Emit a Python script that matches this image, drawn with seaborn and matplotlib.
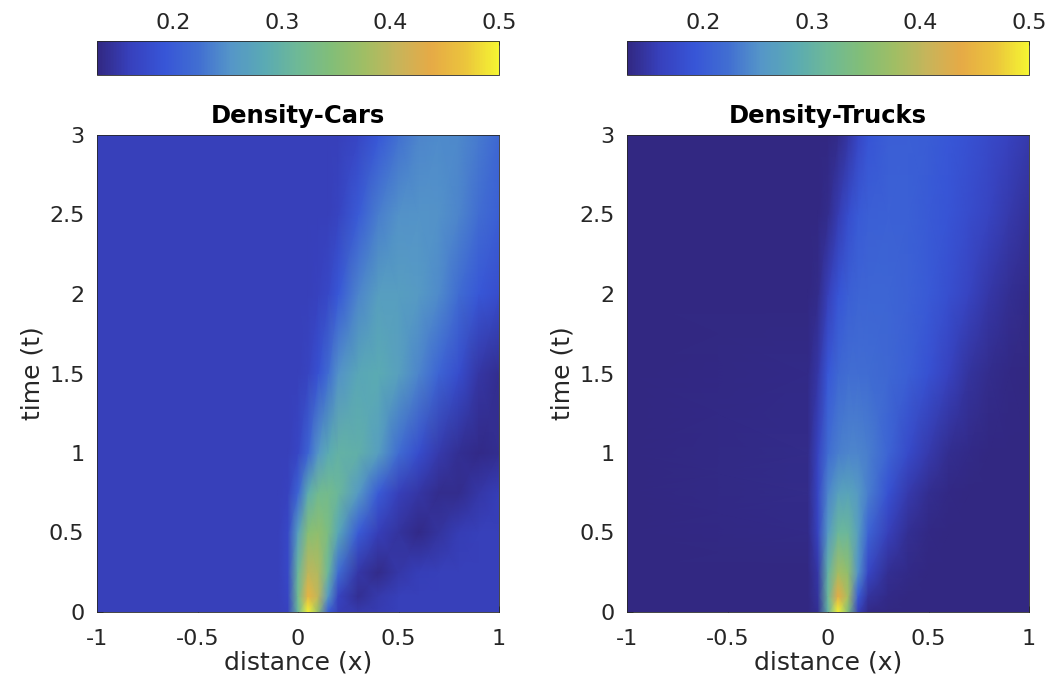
import numpy as np
import matplotlib
matplotlib.use("Agg")
import matplotlib.pyplot as plt
import seaborn as sns

# grid nodes
x_nodes = [-1.0, -0.1, -0.05, 0.0, 0.05, 0.1, 0.15, 0.2, 0.3, 0.4, 0.5, 0.6, 0.7, 0.8, 0.9, 1.0]
t_nodes = [0.0, 0.1, 0.25, 0.5, 0.75, 1.0, 1.5, 2.0, 2.5, 3.0]

# density of cars, one row per time node
cars_density = [
    [.16, .16, .163, .31, .50, .36, .20, .158, .152, .156, .16, .16, .16, .16, .16, .16],
    [.16, .16, .168, .32, .45, .40, .26, .165, .140, .152, .16, .16, .16, .16, .16, .16],
    [.16, .16, .172, .31, .40, .39, .31, .22, .150, .135, .150, .158, .16, .16, .16, .16],
    [.16, .16, .172, .27, .35, .36, .335, .28, .20, .158, .145, .133, .145, .157, .16, .16],
    [.16, .16, .163, .21, .29, .32, .325, .31, .26, .20, .16, .148, .137, .137, .15, .158],
    [.16, .16, .16, .17, .21, .255, .285, .30, .295, .265, .22, .18, .152, .14, .133, .138],
    [.16, .16, .16, .16, .165, .185, .22, .25, .28, .285, .27, .24, .21, .18, .148, .138],
    [.16, .16, .16, .16, .16, .162, .172, .195, .24, .265, .265, .26, .245, .22, .195, .18],
    [.16, .16, .16, .16, .16, .16, .16, .165, .20, .235, .25, .252, .25, .24, .222, .205],
    [.16, .16, .16, .16, .16, .16, .16, .16, .17, .195, .225, .24, .245, .243, .232, .215],
]

# density of trucks, one row per time node
trucks_density = [
    [.131, .131, .14, .30, .50, .34, .16, .134, .131, .131, .131, .131, .131, .131, .131, .131],
    [.131, .131, .145, .31, .44, .38, .20, .145, .133, .131, .131, .131, .131, .131, .131, .131],
    [.131, .131, .15, .30, .38, .36, .25, .17, .14, .133, .131, .131, .131, .131, .131, .131],
    [.131, .134, .165, .26, .31, .31, .265, .21, .16, .14, .132, .131, .131, .131, .131, .131],
    [.131, .135, .17, .24, .27, .275, .26, .235, .185, .152, .138, .132, .131, .131, .131, .131],
    [.131, .135, .165, .22, .235, .24, .24, .235, .21, .175, .152, .138, .133, .131, .131, .131],
    [.131, .133, .15, .195, .215, .222, .222, .22, .215, .205, .185, .162, .145, .136, .132, .131],
    [.131, .131, .135, .16, .19, .205, .21, .212, .212, .208, .198, .183, .166, .15, .14, .134],
    [.131, .131, .131, .137, .155, .18, .198, .205, .208, .206, .198, .19, .178, .165, .152, .142],
    [.131, .131, .131, .131, .135, .148, .17, .19, .203, .205, .202, .195, .186, .175, .163, .152],
]

titles = ["Density-Cars", "Density-Trucks"]
x_ticks = [-1, -0.5, 0, 0.5, 1]
x_tick_labels = ["-1", "-0.5", "0", "0.5", "1"]
t_ticks = [0, 0.5, 1, 1.5, 2, 2.5, 3]
t_tick_labels = ["0", "0.5", "1", "1.5", "2", "2.5", "3"]
cbar_ticks = [0.2, 0.3, 0.4, 0.5]
cbar_tick_labels = ["0.2", "0.3", "0.4", "0.5"]
c_lim = (0.13, 0.5)

sns.set_theme(style="white")
plt.rcParams["font.family"] = ["DejaVu Sans"]

# muted parula-like colormap, sampled from the colour bar
cmap_anchors = [
    "#322882", "#3741be", "#3755d7", "#416ed2", "#5596c8", "#5aaab4",
    "#6eb996", "#82be78", "#a0be64", "#c8b45a", "#e6aa46", "#ebc43c", "#f5f532",
]
parula = sns.blend_palette(cmap_anchors, n_colors=256, as_cmap=True)

fig = plt.figure(figsize=(10.5, 6.91), dpi=100)
ax_lefts = [97 / 1050, 627 / 1050]
ax_width = 402 / 1050
XX, TT = np.meshgrid(x_nodes, t_nodes)
ink = "#262626"

for i, dens in enumerate([cars_density, trucks_density]):
    ax = fig.add_axes([ax_lefts[i], 79 / 691, ax_width, 477 / 691])
    mesh = ax.pcolormesh(XX, TT, np.array(dens), shading="gouraud", cmap=parula,
                         vmin=c_lim[0], vmax=c_lim[1], rasterized=True)
    ax.set_xlim(-1, 1)
    ax.set_ylim(0, 3)
    ax.set_xticks(x_ticks)
    ax.set_xticklabels(x_tick_labels)
    ax.set_yticks(t_ticks)
    ax.set_yticklabels(t_tick_labels)
    ax.tick_params(direction="in", length=4, width=0.6, labelsize=16, colors=ink,
                   bottom=True, left=True)
    ax.tick_params(axis="x", pad=12)
    ax.tick_params(axis="y", pad=9)
    for sp in ax.spines.values():
        sp.set_color(ink)
        sp.set_linewidth(0.6)
    ax.set_xlabel("distance (x)", fontsize=18, color=ink, labelpad=1)
    ax.set_ylabel("time (t)", fontsize=18, color=ink, labelpad=3)
    ax.set_title(titles[i], fontsize=17.5, fontweight="bold", color="black", pad=9)

    cax = fig.add_axes([ax_lefts[i], (691 - 75) / 691, ax_width, 34 / 691])
    cb = fig.colorbar(mesh, cax=cax, orientation="horizontal")
    cb.set_ticks(cbar_ticks)
    cb.set_ticklabels(cbar_tick_labels)
    cax.xaxis.set_ticks_position("top")
    cax.tick_params(direction="in", length=3, width=0.6, labelsize=16, colors=ink, pad=6)
    cb.outline.set_edgecolor(ink)
    cb.outline.set_linewidth(0.6)

fig.savefig("out.png", dpi=100)
